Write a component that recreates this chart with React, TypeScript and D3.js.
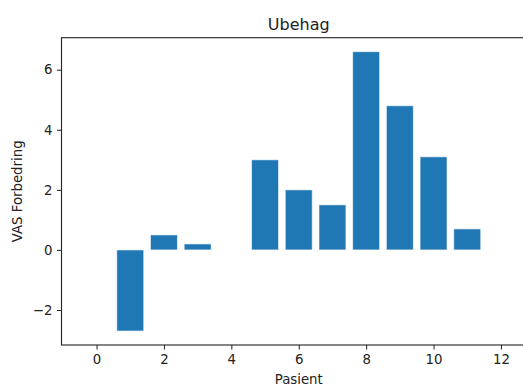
import { useEffect, useRef } from 'react';
import * as d3 from 'd3';

const width = 523;
const height = 387;
// axes box (right edge runs past the window, as in the picture)
const [mt, ml] = [37.7, 61.5];
const axRight = 536;
const axBottom = 345;

const patients = [0, 1, 2, 3, 4, 5, 6, 7, 8, 9, 10, 11, 12];
const values = [0, -2.7, 0.5, 0.2, 0, 3.0, 2.0, 1.5, 6.6, 4.8, 3.1, 0.7, 0];
const xTicks = [0, 2, 4, 6, 8, 10, 12];
const yTicks = [-2, 0, 2, 4, 6];

const title = 'Ubehag';
const xLabel = 'Pasient';
const yLabel = 'VAS Forbedring';

export default function App() {
    const ref = useRef<SVGSVGElement | null>(null);

    useEffect(() => {
        const svg = d3.select(ref.current);
        svg.selectAll('*').remove();

        const font = 'DejaVu Sans, sans-serif';
        const barW = 0.8;

        // matplotlib style 5% margins
        const xmin = d3.min(patients)! - barW / 2;
        const xmax = d3.max(patients)! + barW / 2;
        const xm = (xmax - xmin) * 0.05;
        const x = d3.scaleLinear().domain([xmin - xm, xmax + xm]).range([ml, axRight]);

        const ymin = Math.min(0, d3.min(values)!);
        const ymax = Math.max(0, d3.max(values)!);
        const ymarg = (ymax - ymin) * 0.05;
        const y = d3.scaleLinear().domain([ymin - ymarg, ymax + ymarg]).range([axBottom, mt]);

        const data = patients.map((p, i) => ({ p, v: values[i] })).filter((d) => d.v !== 0);

        svg.append('g')
            .selectAll('rect')
            .data(data)
            .join('rect')
            .attr('x', (d) => x(d.p - barW / 2))
            .attr('width', (d) => x(d.p + barW / 2) - x(d.p - barW / 2))
            .attr('y', (d) => y(Math.max(0, d.v)))
            .attr('height', (d) => Math.abs(y(d.v) - y(0)))
            .attr('fill', '#1f77b4')
            .attr('stroke', 'rgba(255,255,255,0.6)')
            .attr('stroke-width', 1);

        // axes frame
        svg.append('rect')
            .attr('x', ml)
            .attr('y', mt)
            .attr('width', axRight - ml)
            .attr('height', axBottom - mt)
            .attr('fill', 'none')
            .attr('stroke', '#222')
            .attr('stroke-width', 1.1);

        const xAxis = d3.axisBottom(x).tickValues(xTicks).tickSize(4.6).tickPadding(4.5).tickFormat(d3.format('d'));
        svg.append('g')
            .attr('transform', `translate(0,${axBottom})`)
            .call(xAxis)
            .call((g) => g.select('.domain').remove())
            .call((g) => g.selectAll('.tick line').attr('stroke', '#222'))
            .call((g) => g.selectAll('.tick text').attr('fill', '#222').attr('font-size', 13.3).attr('font-family', font));

        const yAxis = d3
            .axisLeft(y)
            .tickValues(yTicks)
            .tickSize(4.6)
            .tickPadding(4.5)
            .tickFormat((d) => (+d < 0 ? '\u2212' + Math.abs(+d) : String(d)));
        svg.append('g')
            .attr('transform', `translate(${ml},0)`)
            .call(yAxis)
            .call((g) => g.select('.domain').remove())
            .call((g) => g.selectAll('.tick line').attr('stroke', '#222'))
            .call((g) => g.selectAll('.tick text').attr('fill', '#222').attr('font-size', 13.3).attr('font-family', font));

        svg.append('text')
            .attr('x', (ml + axRight) / 2)
            .attr('y', 30)
            .attr('text-anchor', 'middle')
            .attr('font-family', font)
            .attr('font-size', 16)
            .attr('fill', '#222')
            .text(title);

        svg.append('text')
            .attr('x', (ml + axRight) / 2)
            .attr('y', 384)
            .attr('text-anchor', 'middle')
            .attr('font-family', font)
            .attr('font-size', 13.3)
            .attr('fill', '#222')
            .text(xLabel);

        svg.append('text')
            .attr('transform', `translate(22,${(mt + axBottom) / 2}) rotate(-90)`)
            .attr('text-anchor', 'middle')
            .attr('font-family', font)
            .attr('font-size', 13.3)
            .attr('fill', '#222')
            .text(yLabel);
    }, []);

    return (
        <svg
            ref={ref}
            width={width}
            height={height}
            style={{ position: 'absolute', left: 0, top: 0, background: '#fff', overflow: 'hidden' }}
        />
    );
}
